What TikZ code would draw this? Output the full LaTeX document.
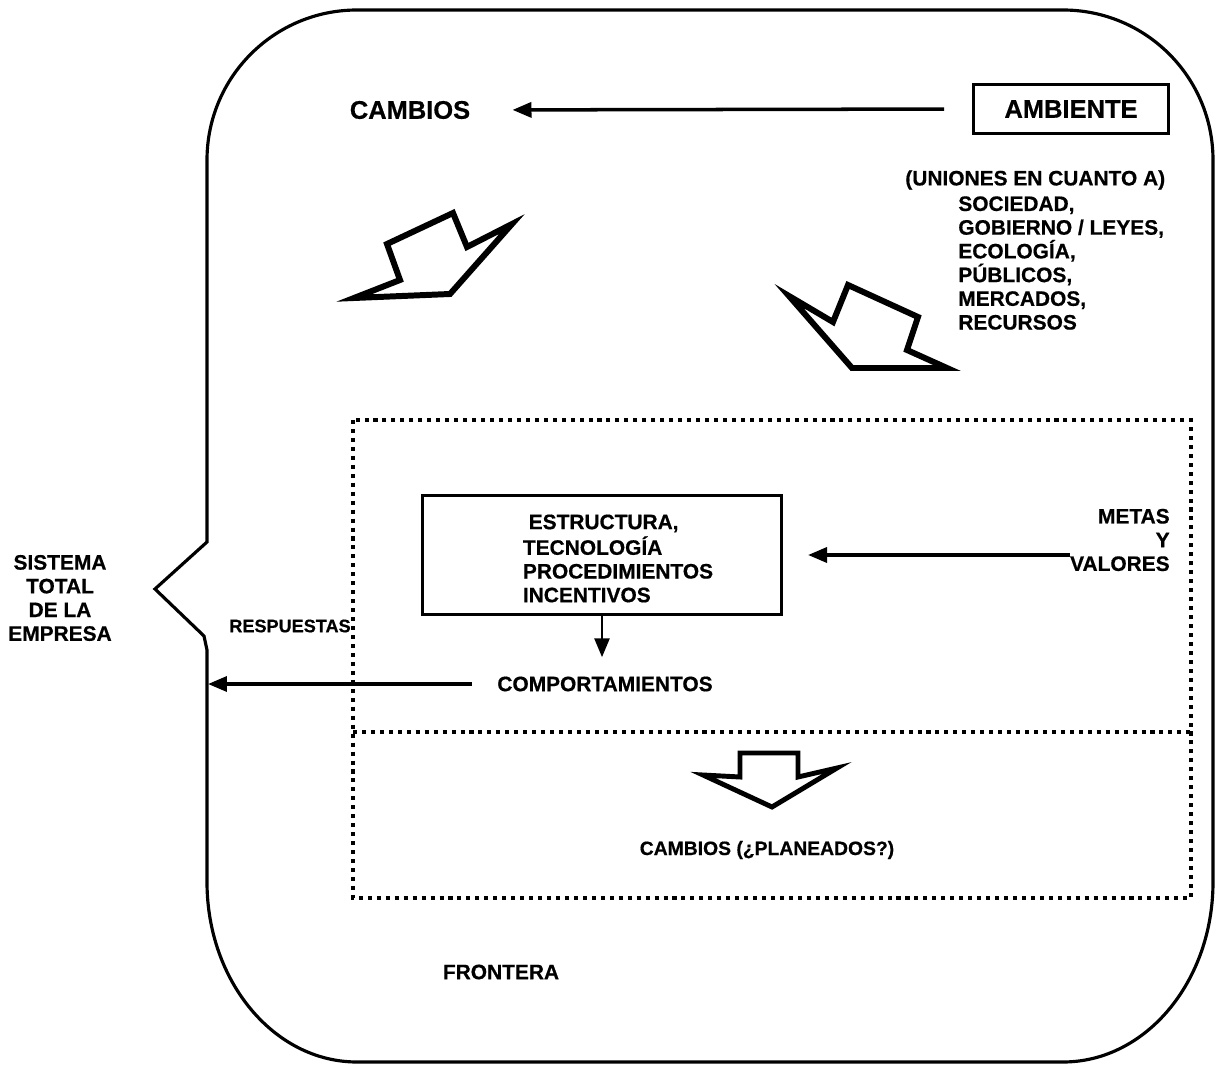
\documentclass[tikz,border=0pt]{standalone}
\usepackage{fontspec}
\setmainfont{Liberation Sans}[BoldFeatures={FakeBold=0.6}]
\usetikzlibrary{arrows.meta}

\tikzset{
  txt/.style={font=\bfseries\fontsize{11.9}{13.5}\selectfont, inner sep=0pt},
  txtgrande/.style={font=\bfseries\fontsize{14.5}{16}\selectfont, inner sep=0pt},
  caja/.style={draw, line width=1.8pt},
  flecha/.style={line width=2pt, -{Triangle[length=0.38cm,width=0.3cm]}},
  frontera/.style={line width=1.8pt},
  punteado/.style={line width=2.3pt, dash pattern=on 2.3pt off 2.8pt},
  bloque/.style={line width=3.4pt, line join=miter},
}

\begin{document}
\begin{tikzpicture}[x=0.02cm, y=-0.02cm]
\useasboundingbox (0,0) rectangle (1217,1067);

% frontera de la empresa
\draw[frontera] (207,650) -- (207,882)
  arc[start angle=180, end angle=90, x radius=150, y radius=180] -- (1063,1062)
  arc[start angle=90, end angle=0, x radius=150, y radius=180] -- (1213,160)
  arc[start angle=0, end angle=-90, x radius=150, y radius=150] -- (357,10)
  arc[start angle=-90, end angle=-180, x radius=150, y radius=150] -- (207,542)
  -- (155,589) -- (204,636) -- cycle;

% zona punteada
\draw[punteado] (353,420) rectangle (1191,898);
\draw[punteado] (353,732) -- (1191,732);

% textos
\node[txtgrande] (cambios) at (410,110) {CAMBIOS};
\node[caja, txtgrande, line width=1.5pt, minimum width=3.9cm, minimum height=0.98cm] (ambiente) at (1071,109) {AMBIENTE};
\node[txt, anchor=west] (uniones) at (905,180) {(UNIONES EN CUANTO A)};
\node[txt, anchor=north west, align=left] (factores) at (958,196) {SOCIEDAD,\\GOBIERNO / LEYES,\\ECOLOG\'IA,\\P\'UBLICOS,\\MERCADOS,\\RECURSOS};
\node[caja, txt, inner sep=3pt, minimum width=7.18cm, minimum height=2.28cm] (estructura) at (602,555)
  {\begin{tabular}{@{\hspace{0.64cm}}l@{}}\rule{0pt}{0.57cm}\ ESTRUCTURA,\\TECNOLOG\'IA\\PROCEDIMIENTOS\\INCENTIVOS\end{tabular}};
\node[txt, anchor=east, align=right] (metas) at (1170,540) {METAS\\Y\\VALORES};
\node[txt] (comportamientos) at (605,684) {COMPORTAMIENTOS};
\node[txt, align=center] (sistema) at (60,598) {SISTEMA\\TOTAL\\DE LA\\EMPRESA};
\node[txt, font=\bfseries\fontsize{10.3}{11}\selectfont] (respuestas) at (290,626) {RESPUESTAS};
\node[txt, font=\bfseries\fontsize{11}{12}\selectfont] (planeados) at (767,850) {CAMBIOS (¿PLANEADOS?)};
\node[txt] (fronteralbl) at (501,972) {FRONTERA};
\coordinate (borde) at (208,684);

% flechas
\draw[flecha, shorten <=0.56cm, shorten >=0.84cm] (ambiente.west) -- (cambios.east);
\draw[flecha, shorten >=0.5cm] (metas.west |- estructura.east) -- (estructura.east);
\draw[flecha, line width=1.6pt, shorten >=0.38cm] (estructura.south) -- (estructura.south |- comportamientos.north);
\draw[flecha, shorten <=0.5cm] (comportamientos.west) -- (borde);

% flechas de bloque
\draw[bloque] (354,298) -- (450,294) -- (512,224) -- (467,247) -- (453,213) -- (387,244) -- (400,280) -- cycle;
\draw[bloque] (789,296) -- (833,322) -- (848,285) -- (918,317) -- (907,350) -- (947,368) -- (852,368) -- cycle;
\draw[bloque, line width=2.8pt] (740,753) -- (798,753) -- (798,777) -- (837,768) -- (772,807) -- (703,775) -- (740,777) -- cycle;
\end{tikzpicture}
\end{document}
